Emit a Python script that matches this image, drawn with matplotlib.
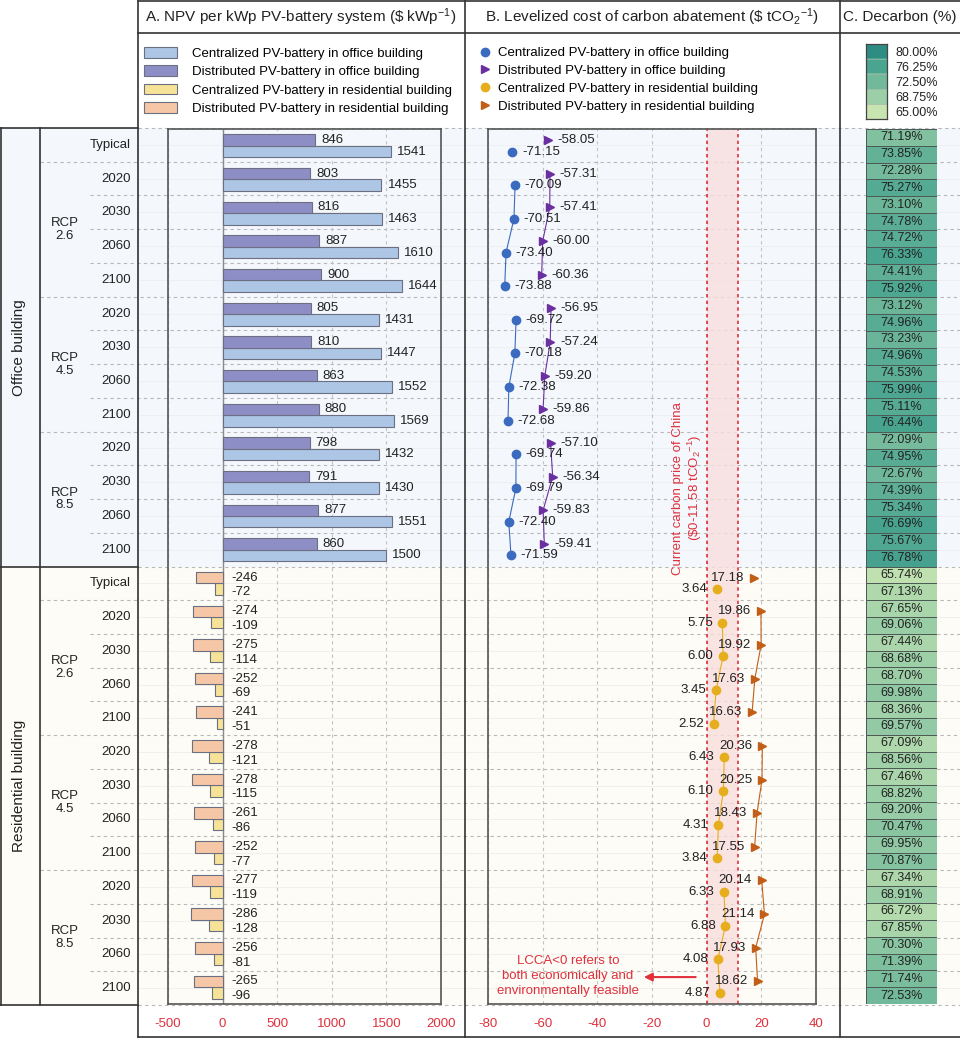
import matplotlib.pyplot as plt
import numpy as np
from matplotlib.colors import LinearSegmentedColormap, ListedColormap
from matplotlib.patches import Rectangle

plt.rcParams['font.family'] = ['Liberation Sans', 'DejaVu Sans']
plt.rcParams['axes.unicode_minus'] = False
plt.rcParams['mathtext.fontset'] = 'custom'
plt.rcParams['mathtext.rm'] = 'Liberation Sans'
plt.rcParams['mathtext.default'] = 'regular'

W, H = 960, 1044

# ---- data (top row of each pair = distributed, bottom = centralized) ----
scenarios = ['Typical', '2020', '2030', '2060', '2100', '2020', '2030', '2060', '2100',
             '2020', '2030', '2060', '2100']
rcp_labels = ['RCP\n2.6', 'RCP\n4.5', 'RCP\n8.5']
sections = ['Office building', 'Residential building']

npv_office_dist = [846, 803, 816, 887, 900, 805, 810, 863, 880, 798, 791, 877, 860]
npv_office_cent = [1541, 1455, 1463, 1610, 1644, 1431, 1447, 1552, 1569, 1432, 1430, 1551, 1500]
npv_res_dist = [-246, -274, -275, -252, -241, -278, -278, -261, -252, -277, -286, -256, -265]
npv_res_cent = [-72, -109, -114, -69, -51, -121, -115, -86, -77, -119, -128, -81, -96]

lcca_office_dist = [-58.05, -57.31, -57.41, -60.00, -60.36, -56.95, -57.24, -59.20, -59.86,
                    -57.10, -56.34, -59.83, -59.41]
lcca_office_cent = [-71.15, -70.09, -70.51, -73.40, -73.88, -69.72, -70.18, -72.38, -72.68,
                    -69.74, -69.79, -72.40, -71.59]
lcca_res_dist = [17.18, 19.86, 19.92, 17.63, 16.63, 20.36, 20.25, 18.43, 17.55,
                 20.14, 21.14, 17.93, 18.62]
lcca_res_cent = [3.64, 5.75, 6.00, 3.45, 2.52, 6.43, 6.10, 4.31, 3.84,
                 6.33, 6.88, 4.08, 4.87]

dec_office_dist = [71.19, 72.28, 73.10, 74.72, 74.41, 73.12, 73.23, 74.53, 75.11,
                   72.09, 72.67, 75.34, 75.67]
dec_office_cent = [73.85, 75.27, 74.78, 76.33, 75.92, 74.96, 74.96, 75.99, 76.44,
                   74.95, 74.39, 76.69, 76.78]
dec_res_dist = [65.74, 67.65, 67.44, 68.70, 68.36, 67.09, 67.46, 69.20, 69.95,
                67.34, 66.72, 70.30, 71.74]
dec_res_cent = [67.13, 69.06, 68.68, 69.98, 69.57, 68.56, 68.82, 70.47, 70.87,
                68.91, 67.85, 71.39, 72.53]

carbon_price = (0, 11.58)
cbar_levels = [65.00, 68.75, 72.50, 76.25, 80.00]

legend_labels = ['Centralized PV-battery in office building',
                 'Distributed PV-battery in office building',
                 'Centralized PV-battery in residential building',
                 'Distributed PV-battery in residential building']

# ---- styles ----
RED = '#e0303c'
TXT = '#222222'
FRAME = '#555555'
c_off_cent, c_off_dist = '#adc6e6', '#8e8ec6'
c_res_cent, c_res_dist = '#f7e397', '#f6c7a6'
m_off_cent, m_off_dist = '#3a6bbf', '#6b2fa0'
m_res_cent, m_res_dist = '#e6ad1c', '#c25e17'
green_cols = ['#c7e4b1', '#9ccfa7', '#72b99b', '#4aa590', '#2e8d82']

n = len(scenarios)
ng = 2 * n
top, mid, bot = 128, 567, 1005
gh = (bot - top) / ng


def gy(i):
    return top + i * gh


def px_box(x0, y0, x1, y1):
    return [x0 / W, 1 - y1 / H, (x1 - x0) / W, (y1 - y0) / H]


fig = plt.figure(figsize=(W / 100, H / 100), dpi=100)
base = fig.add_axes([0, 0, 1, 1])
base.set_xlim(0, W)
base.set_ylim(H, 0)
base.axis('off')

# background tints
base.add_patch(Rectangle((0, top), W, mid - top, color='#f4f7fc', lw=0, zorder=0))
base.add_patch(Rectangle((0, mid), W, bot - mid, color='#fdfcf6', lw=0, zorder=0))

# faint sub-row lines and dashed group separators
for k in range(ng):
    yy = gy(k) + gh / 2
    base.plot([138, W], [yy, yy], color='#ececec', lw=0.5, zorder=1)
for k in range(ng + 1):
    i = k % n
    yy = gy(k)
    if k in (0, n, ng):
        x0 = 138
    elif i in (1, 5, 9):
        x0 = 40
    else:
        x0 = 90
    base.plot([x0, W], [yy, yy], ls=(0, (3, 3)), color='#b8b8b8', lw=0.8, zorder=1)

# table frame
lk = dict(color='#333333', lw=1.2, zorder=5)
for x in (138, 465, 840):
    base.plot([x, x], [0.6, 1037], **lk)
base.plot([138, W], [0.6, 0.6], **lk)
base.plot([138, W], [33, 33], **lk)
base.plot([138, W], [1037, 1037], **lk)
base.plot([0.8, 0.8], [top, bot], **lk)
base.plot([40, 40], [top, bot], **lk)
for yy in (top, mid, bot):
    base.plot([0, 138], [yy, yy], **lk)

# headers
base.text(301, 17, r'A. NPV per kWp PV-battery system (\$ kWp$^{-1}$)', ha='center',
          va='center', fontsize=11, color=TXT)
base.text(652, 17, r'B. Levelized cost of carbon abatement (\$ tCO$_2$$^{-1}$)', ha='center',
          va='center', fontsize=11, color=TXT)
base.text(900, 17, 'C. Decarbon (%)', ha='center', va='center', fontsize=11, color=TXT)

# row labels
for s, name in enumerate(sections):
    base.text(19, (gy(s * n) + gy(s * n + n)) / 2, name, rotation=90, ha='center', va='center',
              fontsize=11, color=TXT)
    for i, lab in enumerate(scenarios):
        base.text(131, gy(s * n + i) + gh / 2, lab, ha='right', va='center', fontsize=9.5,
                  color=TXT)
    for r, lab in enumerate(rcp_labels):
        a = s * n + 1 + 4 * r
        base.text(65, (gy(a) + gy(a + 4)) / 2, lab, ha='center', va='center', fontsize=9.5,
                  color=TXT, linespacing=1.1)

y_off = np.arange(n) + 0.5
y_res = np.arange(n) + n + 0.5
d = 0.17
bh = 0.34

# ---- panel A ----
axA = fig.add_axes(px_box(168, top + 1, 441, bot - 1))
axA.set_facecolor('none')
axA.set_xlim(-500, 2000)
axA.set_ylim(ng, 0)
ek = dict(height=bh, edgecolor='#6b6f80', lw=0.8, zorder=3)
hA1 = axA.barh(y_off + d, npv_office_cent, color=c_off_cent, **ek)
hA2 = axA.barh(y_off - d, npv_office_dist, color=c_off_dist, **ek)
hA3 = axA.barh(y_res + d, npv_res_cent, color=c_res_cent, **ek)
hA4 = axA.barh(y_res - d, npv_res_dist, color=c_res_dist, **ek)
for vals, ys in ((npv_office_cent, y_off + d), (npv_office_dist, y_off - d)):
    for v, yy in zip(vals, ys):
        axA.text(v + 55, yy, str(v), ha='left', va='center', fontsize=9.5, color=TXT, zorder=4)
for vals, ys in ((npv_res_cent, y_res + d + 0.1), (npv_res_dist, y_res - d)):
    for v, yy in zip(vals, ys):
        axA.text(80, yy, str(v), ha='left', va='center', fontsize=9.5, color=TXT, zorder=4)
axA.axvline(0, color='#8a8a8a', lw=1, zorder=2)
axA.set_xticks([-500, 0, 500, 1000, 1500, 2000])
axA.set_yticks([])
axA.grid(axis='x', ls=(0, (3, 3)), color='#c4c4c4', lw=0.8)
axA.tick_params(axis='x', length=0, pad=10, labelcolor=RED, labelsize=9.5)
for sp in axA.spines.values():
    sp.set_color(FRAME)
    sp.set_linewidth(1.2)

legA = base.legend([hA1, hA2, hA3, hA4], legend_labels, loc='upper left',
                   bbox_to_anchor=(144 / W, 1 - 47 / H), bbox_transform=fig.transFigure,
                   frameon=False, fontsize=9.5, handlelength=2.5, handleheight=0.85,
                   handletextpad=1.15, labelspacing=0.42, borderpad=0, borderaxespad=0)
base.add_artist(legA)

# ---- panel B ----
axB = fig.add_axes(px_box(488, top + 1, 816, bot - 1))
axB.set_facecolor('none')
axB.set_xlim(-80, 40)
axB.set_ylim(ng, 0)
axB.axvspan(carbon_price[0], carbon_price[1], color='#f9dede', alpha=0.8, lw=0, zorder=1)
for cp in carbon_price:
    axB.axvline(cp, color=RED, ls=(0, (2, 2)), lw=1.2, zorder=2)

handlesB = []
series = [(lcca_office_cent, y_off + d, m_off_cent, 'o', 'right'),
          (lcca_office_dist, y_off - d, m_off_dist, '>', 'right'),
          (lcca_res_cent, y_res + d, m_res_cent, 'o', 'left'),
          (lcca_res_dist, y_res - d, m_res_dist, '>', 'left')]
for vals, ys, col, mk, side in series:
    vals = np.array(vals)
    h, = axB.plot(vals, ys, ls='none', marker=mk, ms=6 if mk == 'o' else 5.5, color=col,
                  zorder=5)
    handlesB.append(h)
    for a in (1, 5, 9):
        axB.plot(vals[a:a + 4], ys[a:a + 4], color=col, lw=0.8, zorder=4)
    for v, yy in zip(vals, ys):
        off = 7 if side == 'right' else -7
        axB.annotate(f'{v:.2f}', (v, yy), xytext=(off, 0), textcoords='offset points',
                     ha='left' if side == 'right' else 'right', va='center', fontsize=9.5,
                     color=TXT, zorder=6)

axB.text(-6.8, 10.67, 'Current carbon price of China\n(\\$0-11.58 tCO$_2$$^{-1}$)', rotation=90,
         ha='center', va='center', fontsize=9.5, color=RED, linespacing=1.15)
axB.annotate('', xy=(-24, 25.2), xytext=(-3, 25.2),
             arrowprops=dict(arrowstyle='-|>', color=RED, lw=1.5, mutation_scale=12))
axB.text(-50.7, 25.17, 'LCCA<0 refers to\nboth economically and\nenvironmentally feasible',
         ha='center', va='center', fontsize=9.5, color=RED, linespacing=1.3)

axB.set_xticks([-80, -60, -40, -20, 0, 20, 40])
axB.set_yticks([])
axB.grid(axis='x', ls=(0, (3, 3)), color='#c4c4c4', lw=0.8)
axB.tick_params(axis='x', length=0, pad=10, labelcolor=RED, labelsize=9.5)
for sp in axB.spines.values():
    sp.set_color(FRAME)
    sp.set_linewidth(1.2)

base.legend(handlesB, legend_labels, loc='upper left',
            bbox_to_anchor=(478 / W, 1 - 47 / H), bbox_transform=fig.transFigure,
            frameon=False, fontsize=9.5, handlelength=1.0, handletextpad=0.5,
            labelspacing=0.42, borderpad=0, borderaxespad=0)

# ---- panel C ----
cmap = LinearSegmentedColormap.from_list('dec', green_cols)
dec_off = np.ravel(np.column_stack([dec_office_dist, dec_office_cent]))
dec_res = np.ravel(np.column_stack([dec_res_dist, dec_res_cent]))
dec_all = np.concatenate([dec_off, dec_res])
nrow = len(dec_all)
axC = fig.add_axes(px_box(866, top + 1, 937, bot - 1))
axC.pcolormesh([0, 1], np.arange(nrow + 1), dec_all.reshape(-1, 1), cmap=cmap,
               vmin=cbar_levels[0], vmax=cbar_levels[-1], edgecolors='#4d5a55', lw=0.6)
axC.set_xlim(0, 1)
axC.set_ylim(nrow, 0)
for k, v in enumerate(dec_all):
    axC.text(0.5, k + 0.5, f'{v:.2f}%', ha='center', va='center', fontsize=9, color=TXT)
axC.axis('off')

# colour bar
axCb = fig.add_axes(px_box(866, 44, 887, 119))
axCb.imshow(np.arange(len(green_cols))[::-1].reshape(-1, 1), cmap=ListedColormap(green_cols),
            aspect='auto', extent=[0, 1, len(green_cols), 0])
for k in range(1, len(green_cols)):
    axCb.axhline(k, color='#9fb7a8', lw=0.5)
axCb.set_xticks([])
axCb.set_yticks(np.arange(len(green_cols)) + 0.5)
axCb.set_yticklabels([f'{v:.2f}%' for v in cbar_levels[::-1]])
axCb.yaxis.tick_right()
axCb.tick_params(axis='y', length=0, pad=6, labelsize=9, labelcolor=TXT)
for sp in axCb.spines.values():
    sp.set_color('#444444')
    sp.set_linewidth(0.9)

fig.savefig('out.png', dpi=100)
